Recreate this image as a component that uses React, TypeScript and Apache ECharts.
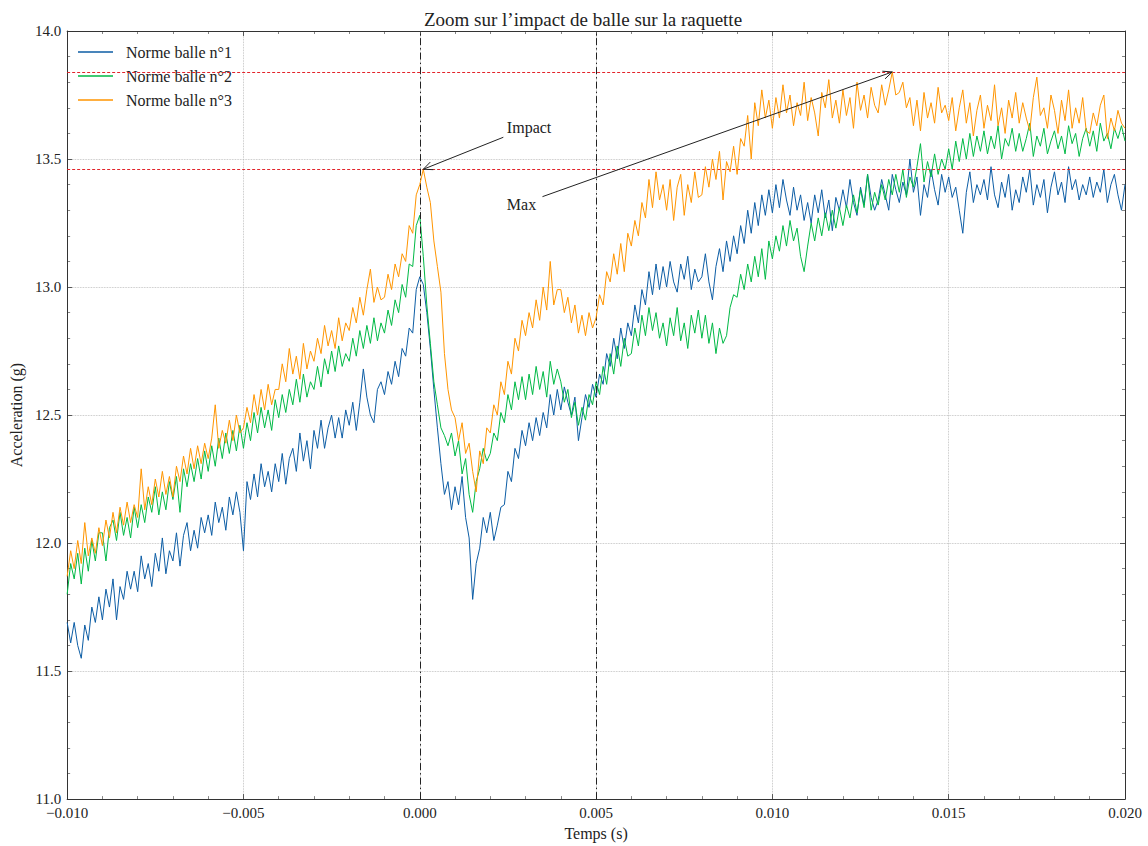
import React, { useEffect, useRef } from "react";
import * as echarts from "echarts";

// Sampling of the recorded signals (seconds)
const SAMPLE_START = -0.01;
const SAMPLE_STEP = 0.0001;

// Norme balle n°1 (g)
const ball1 = [
  11.69, 11.61, 11.69, 11.60, 11.55, 11.68, 11.62, 11.75, 11.69, 11.79,
  11.70, 11.82, 11.75, 11.86, 11.70, 11.83, 11.78, 11.89, 11.82, 11.89,
  11.81, 11.95, 11.86, 11.92, 11.83, 11.96, 11.89, 12.02, 11.88, 11.97,
  11.93, 12.04, 11.91, 12.03, 12.08, 11.97, 12.05, 11.98, 12.10, 12.04,
  12.11, 12.03, 12.16, 12.08, 12.14, 12.05, 12.18, 12.11, 12.20, 12.12,
  11.97, 12.24, 12.17, 12.27, 12.18, 12.31, 12.22, 12.28, 12.20, 12.31,
  12.24, 12.35, 12.23, 12.33, 12.37, 12.28, 12.43, 12.32, 12.40, 12.29,
  12.44, 12.37, 12.48, 12.37, 12.45, 12.50, 12.41, 12.49, 12.41, 12.52,
  12.46, 12.55, 12.44, 12.55, 12.68, 12.57, 12.50, 12.47, 12.60, 12.63,
  12.58, 12.67, 12.62, 12.71, 12.65, 12.76, 12.73, 12.84, 12.82, 12.99,
  13.04, 13.01, 12.90, 12.76, 12.60, 12.45, 12.31, 12.19, 12.24, 12.13,
  12.22, 12.15, 12.26, 12.10, 12.02, 11.78, 11.92, 11.98, 12.10, 12.04,
  12.12, 12.01, 12.07, 12.14, 12.15, 12.28, 12.24, 12.37, 12.33, 12.44,
  12.38, 12.47, 12.40, 12.49, 12.42, 12.51, 12.45, 12.58, 12.50, 12.60,
  12.52, 12.61, 12.55, 12.50, 12.57, 12.40, 12.49, 12.58, 12.53, 12.62,
  12.57, 12.66, 12.62, 12.74, 12.69, 12.80, 12.72, 12.84, 12.76, 12.86,
  12.81, 12.93, 12.86, 12.99, 12.93, 13.06, 12.97, 13.09, 12.99, 13.08,
  13.00, 13.10, 13.02, 12.98, 13.09, 13.03, 13.12, 12.99, 13.07, 13.02,
  13.04, 13.13, 13.02, 12.95, 13.08, 13.15, 13.06, 13.18, 13.10, 13.20,
  13.13, 13.24, 13.17, 13.30, 13.21, 13.33, 13.24, 13.36, 13.28, 13.38,
  13.29, 13.40, 13.31, 13.42, 13.34, 13.28, 13.39, 13.30, 13.36, 13.26,
  13.33, 13.25, 13.36, 13.29, 13.38, 13.27, 13.34, 13.22, 13.35, 13.30,
  13.38, 13.31, 13.42, 13.33, 13.28, 13.39, 13.32, 13.44, 13.35, 13.30,
  13.34, 13.42, 13.36, 13.30, 13.44, 13.38, 13.33, 13.41, 13.36, 13.50,
  13.37, 13.43, 13.28, 13.40, 13.35, 13.46, 13.38, 13.32, 13.44, 13.37,
  13.43, 13.35, 13.39, 13.30, 13.21, 13.37, 13.45, 13.33, 13.40, 13.36,
  13.42, 13.34, 13.47, 13.36, 13.31, 13.41, 13.35, 13.44, 13.30, 13.38,
  13.33, 13.43, 13.37, 13.46, 13.32, 13.40, 13.35, 13.42, 13.29, 13.39,
  13.45, 13.36, 13.41, 13.33, 13.47, 13.38, 13.42, 13.34, 13.40, 13.36,
  13.43, 13.35, 13.41, 13.37, 13.46, 13.33, 13.40, 13.44, 13.36, 13.30,
  13.40,
];

// Norme balle n°2 (g)
const ball2 = [
  11.80, 11.92, 11.86, 11.96, 11.84, 11.98, 11.89, 12.01, 11.93, 12.04,
  12.04, 11.93, 12.06, 12.09, 12.01, 12.12, 12.03, 12.10, 12.02, 12.14,
  12.06, 12.15, 12.08, 12.18, 12.12, 12.22, 12.11, 12.20, 12.13, 12.24,
  12.17, 12.26, 12.12, 12.29, 12.22, 12.31, 12.24, 12.33, 12.25, 12.36,
  12.28, 12.38, 12.30, 12.41, 12.33, 12.43, 12.35, 12.44, 12.36, 12.46,
  12.37, 12.47, 12.40, 12.51, 12.43, 12.53, 12.45, 12.52, 12.44, 12.56,
  12.49, 12.58, 12.51, 12.60, 12.54, 12.64, 12.55, 12.66, 12.57, 12.63,
  12.60, 12.69, 12.61, 12.72, 12.66, 12.75, 12.67, 12.77, 12.69, 12.74,
  12.71, 12.80, 12.73, 12.83, 12.76, 12.85, 12.78, 12.88, 12.79, 12.86,
  12.82, 12.91, 12.85, 12.95, 12.90, 13.01, 12.96, 13.09, 13.08, 13.24,
  13.28, 13.12, 12.93, 12.78, 12.63, 12.54, 12.45, 12.42, 12.38, 12.43,
  12.34, 12.40, 12.27, 12.33, 12.19, 12.12, 12.24, 12.29, 12.37, 12.32,
  12.35, 12.43, 12.40, 12.51, 12.47, 12.58, 12.52, 12.63, 12.56, 12.65,
  12.56, 12.66, 12.58, 12.69, 12.60, 12.67, 12.57, 12.71, 12.62, 12.68,
  12.63, 12.55, 12.60, 12.49, 12.55, 12.46, 12.53, 12.48, 12.58, 12.54,
  12.63, 12.58, 12.69, 12.62, 12.74, 12.66, 12.77, 12.69, 12.80, 12.73,
  12.74, 12.84, 12.77, 12.89, 12.81, 12.92, 12.83, 12.90, 12.80, 12.86,
  12.77, 12.88, 12.81, 12.92, 12.79, 12.86, 12.76, 12.89, 12.82, 12.91,
  12.80, 12.89, 12.78, 12.86, 12.74, 12.84, 12.78, 12.81, 12.92, 12.97,
  12.96, 13.05, 12.99, 13.09, 13.02, 13.12, 13.04, 13.15, 13.03, 13.18,
  13.11, 13.20, 13.14, 13.24, 13.16, 13.26, 13.18, 13.23, 13.12, 13.06,
  13.16, 13.25, 13.18, 13.27, 13.20, 13.29, 13.22, 13.30, 13.23, 13.31,
  13.24, 13.32, 13.27, 13.36, 13.29, 13.38, 13.31, 13.44, 13.30, 13.37,
  13.32, 13.40, 13.34, 13.42, 13.36, 13.44, 13.37, 13.46, 13.35, 13.43,
  13.39, 13.47, 13.56, 13.41, 13.49, 13.43, 13.52, 13.44, 13.50, 13.46,
  13.54, 13.46, 13.57, 13.49, 13.58, 13.50, 13.60, 13.51, 13.59, 13.53,
  13.61, 13.52, 13.59, 13.54, 13.63, 13.50, 13.58, 13.55, 13.62, 13.53,
  13.60, 13.53, 13.58, 13.64, 13.51, 13.59, 13.55, 13.62, 13.52, 13.57,
  13.61, 13.54, 13.59, 13.52, 13.63, 13.56, 13.60, 13.51, 13.58, 13.62,
  13.55, 13.61, 13.53, 13.64, 13.57, 13.60, 13.54, 13.62, 13.58, 13.63,
  13.57,
];

// Norme balle n°3 (g)
const ball3 = [
  11.87, 11.97, 11.90, 12.01, 11.92, 12.08, 11.95, 12.02, 11.96, 12.06,
  11.99, 12.09, 12.02, 12.12, 12.04, 12.14, 12.07, 12.16, 12.08, 12.15,
  12.10, 12.29, 12.13, 12.22, 12.15, 12.25, 12.18, 12.28, 12.19, 12.26,
  12.18, 12.30, 12.24, 12.34, 12.27, 12.37, 12.29, 12.38, 12.31, 12.39,
  12.33, 12.41, 12.54, 12.37, 12.44, 12.39, 12.48, 12.40, 12.50, 12.43,
  12.45, 12.53, 12.47, 12.58, 12.50, 12.60, 12.52, 12.62, 12.54, 12.60,
  12.60, 12.70, 12.63, 12.76, 12.66, 12.73, 12.64, 12.78, 12.68, 12.75,
  12.71, 12.80, 12.74, 12.85, 12.77, 12.83, 12.76, 12.88, 12.79, 12.86,
  12.83, 12.92, 12.86, 12.96, 12.89, 12.99, 13.07, 12.94, 13.00, 12.95,
  12.96, 13.05, 12.99, 13.09, 13.04, 13.13, 13.10, 13.24, 13.21, 13.36,
  13.40, 13.46, 13.39, 13.33, 13.18, 13.08, 12.98, 12.74, 12.60, 12.52,
  12.49, 12.40, 12.47, 12.35, 12.39, 12.28, 12.20, 12.36, 12.31, 12.45,
  12.43, 12.54, 12.50, 12.63, 12.58, 12.71, 12.66, 12.80, 12.75, 12.87,
  12.81, 12.90, 12.84, 12.95, 12.87, 13.00, 12.91, 13.10, 12.93, 12.99,
  12.99, 12.90, 12.96, 12.86, 12.93, 12.82, 12.89, 12.81, 12.90, 12.84,
  12.88, 12.97, 12.93, 13.06, 13.02, 13.13, 13.05, 13.17, 13.06, 13.21,
  13.16, 13.26, 13.20, 13.33, 13.27, 13.42, 13.31, 13.45, 13.34, 13.40,
  13.30, 13.42, 13.26, 13.39, 13.44, 13.28, 13.40, 13.33, 13.45, 13.35,
  13.36, 13.47, 13.39, 13.50, 13.42, 13.53, 13.34, 13.49, 13.45, 13.55,
  13.44, 13.58, 13.55, 13.67, 13.50, 13.72, 13.63, 13.77, 13.66, 13.73,
  13.62, 13.74, 13.66, 13.79, 13.68, 13.75, 13.63, 13.72, 13.67, 13.80,
  13.65, 13.74, 13.68, 13.59, 13.76, 13.70, 13.81, 13.66, 13.73, 13.64,
  13.77, 13.67, 13.74, 13.62, 13.80, 13.69, 13.75, 13.66, 13.78, 13.71,
  13.68, 13.79, 13.71, 13.77, 13.84, 13.75, 13.76, 13.80, 13.70, 13.74,
  13.63, 13.73, 13.61, 13.76, 13.66, 13.72, 13.64, 13.78, 13.68, 13.71,
  13.65, 13.74, 13.61, 13.70, 13.77, 13.64, 13.72, 13.59, 13.69, 13.75,
  13.62, 13.71, 13.65, 13.79, 13.63, 13.70, 13.60, 13.73, 13.66, 13.76,
  13.64, 13.72, 13.66, 13.61, 13.74, 13.82, 13.67, 13.70, 13.62, 13.75,
  13.69, 13.60, 13.73, 13.65, 13.77, 13.62, 13.70, 13.64, 13.74, 13.61,
  13.60, 13.68, 13.63, 13.71, 13.75, 13.58, 13.66, 13.61, 13.69, 13.64,
  13.62,
];

const seriesNames = ["Norme balle n°1", "Norme balle n°2", "Norme balle n°3"];
const seriesColors = ["#0C5DA5", "#00B945", "#FF9500"];

// Axis ranges / ticks
const X_MIN = -0.01;
const X_MAX = 0.02;
const X_INTERVAL = 0.005;
const Y_MIN = 11.0;
const Y_MAX = 14.0;
const Y_INTERVAL = 0.5;

// Vertical event markers (s)
const eventTimes = [0, 0.005];
// Window (s) around impact in which the impact peak is searched
const IMPACT_WINDOW = 0.0005;

// Annotation texts and arrow tails (data coords)
const annotationLabels = ["Impact", "Max"];
const annotationTextX = [0.00247, 0.00247];
const annotationTextY = [13.624, 13.322];
const annotationTailX = [0.00237, 0.00348];
const annotationTailY = [13.585, 13.353];

const FONT = "'Liberation Serif', 'DejaVu Serif', serif";
const TEXT_COLOR = "#222";

const times = ball1.map((_, i) => +(SAMPLE_START + i * SAMPLE_STEP).toFixed(5));

function argMax(values: number[], filter: (i: number) => boolean) {
  let best = -1;
  for (let i = 0; i < values.length; i++) {
    if (!filter(i)) continue;
    if (best < 0 || values[i] > values[best]) best = i;
  }
  return best;
}

const impactIdx = argMax(ball3, (i) => Math.abs(times[i]) <= IMPACT_WINDOW);
const maxIdx = argMax(ball3, () => true);
const targetIdx = [impactIdx, maxIdx];

const fmtX = (v: number) => {
  const s = Math.abs(v).toFixed(3);
  return "{t|" + (v < -1e-9 ? "\u2212" + s : s) + "}";
};
const fmtY = (v: number) => "{t|" + v.toFixed(1) + "}";

const tickRich = {
  t: { fontFamily: FONT, fontSize: 15, color: TEXT_COLOR },
};

export default function App() {
  const ref = useRef<HTMLDivElement>(null);

  useEffect(() => {
    if (!ref.current) return;
    const chart = echarts.init(ref.current, undefined, { renderer: "svg" });

    const allSeries = [ball1, ball2, ball3];

    const axisCommon = {
      axisLine: { show: true, onZero: false, lineStyle: { color: "#333", width: 1 } },
      axisTick: { show: true, inside: true, length: 5, lineStyle: { color: "#333", width: 0.8 } },
      minorTick: { show: true, splitNumber: 5, length: 3, lineStyle: { color: "#333", width: 0.6 } },
    };

    const lineSeries = allSeries.map((vals, k) => ({
      name: seriesNames[k],
      type: "line",
      xAxisIndex: 0,
      yAxisIndex: 0,
      data: vals.map((v, i) => [times[i], v]),
      showSymbol: false,
      symbol: "none",
      lineStyle: { color: seriesColors[k], width: 1 },
      itemStyle: { color: seriesColors[k] },
      z: 3 + k,
      ...(k === 0
        ? {
            markLine: {
              silent: true,
              precision: 6,
              symbol: ["none", "none"],
              label: { show: false },
              lineStyle: { color: "#222", width: 1, type: [7, 3, 1.5, 3] },
              data: eventTimes.map((t) => ({ xAxis: t })),
            },
          }
        : {}),
      ...(k === 2
        ? {
            markLine: {
              silent: true,
              precision: 6,
              symbol: ["none", "none"],
              label: { show: false },
              lineStyle: { color: "#e3242b", width: 1, type: [3, 2] },
              data: [{ yAxis: ball3[impactIdx] }, { yAxis: ball3[maxIdx] }],
            },
          }
        : {}),
    }));

    const annotationData = annotationLabels.map((_, i) => [
      annotationTextX[i],
      annotationTextY[i],
      annotationTailX[i],
      annotationTailY[i],
      times[targetIdx[i]],
      ball3[targetIdx[i]],
    ]);

    const annotationSeries = {
      type: "custom",
      xAxisIndex: 0,
      yAxisIndex: 0,
      silent: true,
      clip: false,
      z: 20,
      data: annotationData,
      renderItem: (params: any, api: any) => {
        const tp = api.coord([api.value(0), api.value(1)]);
        const s = api.coord([api.value(2), api.value(3)]);
        const e = api.coord([api.value(4), api.value(5)]);
        const ang = Math.atan2(e[1] - s[1], e[0] - s[0]);
        const hl = 10;
        const ha = 0.42;
        const h1 = [e[0] - hl * Math.cos(ang - ha), e[1] - hl * Math.sin(ang - ha)];
        const h2 = [e[0] - hl * Math.cos(ang + ha), e[1] - hl * Math.sin(ang + ha)];
        return {
          type: "group",
          children: [
            {
              type: "line",
              shape: { x1: s[0], y1: s[1], x2: e[0], y2: e[1] },
              style: { stroke: "#222", lineWidth: 1 },
            },
            {
              type: "polyline",
              shape: { points: [h1, e, h2] },
              style: { stroke: "#222", lineWidth: 1, fill: null },
            },
            {
              type: "text",
              x: tp[0],
              y: tp[1],
              style: {
                text: annotationLabels[params.dataIndex],
                fill: TEXT_COLOR,
                fontSize: 16,
                fontFamily: FONT,
                align: "left",
                verticalAlign: "middle",
              },
            },
          ],
        };
      },
    };

    const option: any = {
      animation: false,
      backgroundColor: "#fff",
      textStyle: { fontFamily: FONT, color: TEXT_COLOR },
      title: {
        text: "Zoom sur l\u2019impact de balle sur la raquette",
        left: 578,
        textAlign: "center",
        top: 5,
        textStyle: { fontFamily: FONT, fontSize: 19, fontWeight: "normal", color: TEXT_COLOR },
      },
      legend: {
        data: seriesNames,
        orient: "vertical",
        left: 78,
        top: 44,
        padding: 0,
        icon: "rect",
        itemWidth: 35,
        itemHeight: 1.5,
        itemGap: 8,
        textStyle: {
          fontFamily: FONT,
          fontSize: 16,
          color: TEXT_COLOR,
          lineHeight: 16,
          padding: [0, 0, 0, 8],
        },
      },
      grid: { left: 64, right: 23, top: 31, bottom: 41, containLabel: false },
      xAxis: [
        {
          type: "value",
          min: X_MIN,
          max: X_MAX,
          interval: X_INTERVAL,
          name: "Temps (s)",
          nameLocation: "middle",
          nameGap: 21,
          nameTextStyle: { fontFamily: FONT, fontSize: 16, color: TEXT_COLOR },
          ...axisCommon,
          axisLabel: {
            formatter: fmtX,
            rich: tickRich,
            fontFamily: FONT,
            fontSize: 15,
            color: TEXT_COLOR,
            margin: 6,
          },
          splitLine: { show: true, lineStyle: { color: "#b5b5b5", type: "dotted", width: 0.8 } },
        },
        {
          type: "value",
          position: "top",
          min: X_MIN,
          max: X_MAX,
          interval: X_INTERVAL,
          ...axisCommon,
          axisLabel: { show: false },
          splitLine: { show: false },
        },
      ],
      yAxis: [
        {
          type: "value",
          min: Y_MIN,
          max: Y_MAX,
          interval: Y_INTERVAL,
          name: "Acceleration (g)",
          nameLocation: "middle",
          nameGap: 40,
          nameTextStyle: { fontFamily: FONT, fontSize: 16, color: TEXT_COLOR },
          ...axisCommon,
          axisLabel: {
            formatter: fmtY,
            rich: tickRich,
            fontFamily: FONT,
            fontSize: 15,
            color: TEXT_COLOR,
            margin: 6,
          },
          splitLine: { show: true, lineStyle: { color: "#b5b5b5", type: "dotted", width: 0.8 } },
        },
        {
          type: "value",
          position: "right",
          min: Y_MIN,
          max: Y_MAX,
          interval: Y_INTERVAL,
          ...axisCommon,
          axisLabel: { show: false },
          splitLine: { show: false },
        },
      ],
      series: [...lineSeries, annotationSeries],
    };

    chart.setOption(option);
    return () => {
      chart.dispose();
    };
  }, []);

  return (
    <div
      ref={ref}
      style={{ position: "fixed", left: 0, top: 0, width: 1148, height: 846, background: "#fff" }}
    />
  );
}
